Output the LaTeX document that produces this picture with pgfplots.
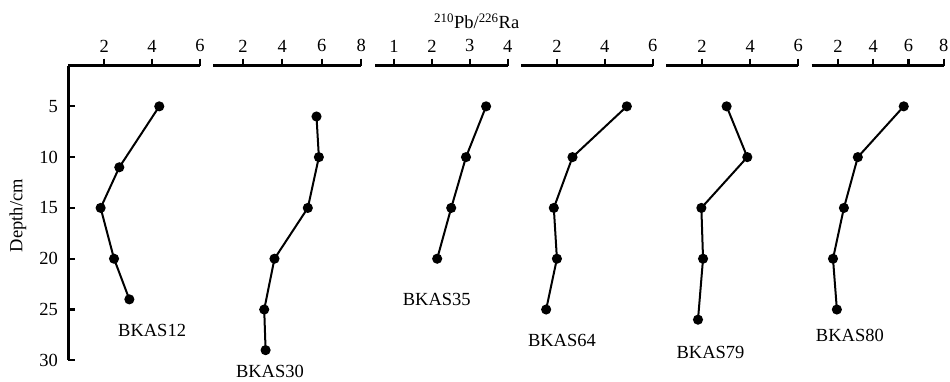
\documentclass[border=0pt]{standalone}
\usepackage{fontspec}
\setmainfont{Liberation Serif}
\usepackage{pgfplots}
\pgfplotsset{compat=1.18}
\newcommand{\lblfont}{\fontsize{18.5}{20}\selectfont}
\pgfplotsset{
  panel/.style={
    scale only axis, height=294.6pt,
    ymin=1, ymax=30, y dir=reverse,
    xmin=0.5, enlargelimits=false,
    axis x line*=top,
    axis line style={-, line width=2.6pt},
    tick align=outside, major tick length=7pt,
    tick style={black, line width=2.2pt},
    ytick style={xshift=7pt},
    tick label style={font=\lblfont},
    xticklabel style={yshift=3pt},
    /pgf/number format/assume math mode=true,
    ytick={5,10,...,30},
    clip=false,
    anchor=south west,
  },
  dat/.style={black, line width=2pt, mark=*, mark size=4pt, mark options={solid,fill=black}},
}
\begin{document}
\begin{tikzpicture}[x=1pt,y=1pt]
\path[use as bounding box] (0,0) rectangle (950,381);

% Panel 1
\begin{axis}[panel, at={(68.3pt,20.7pt)}, width=131.7pt, xmax=6, xtick={2,4,6},
  axis y line*=left]
\addplot[dat] coordinates {(4.30,5) (2.63,11) (1.85,15) (2.41,20) (3.05,24)};
\node[font=\lblfont] at (axis cs:4.0,27.05) {BKAS12};
\end{axis}

% Panel 2
\begin{axis}[panel, at={(213.3pt,20.7pt)}, width=148pt, xmax=8, xtick={2,4,6,8}, axis y line=none]
\addplot[dat] coordinates {(5.73,6) (5.85,10) (5.29,15) (3.60,20) (3.08,25) (3.15,29)};
\node[font=\lblfont] at (axis cs:3.37,31.1) {BKAS30};
\end{axis}

% Panel 3
\begin{axis}[panel, at={(375pt,20.7pt)}, width=132.7pt, xmax=4, xtick={1,2,3,4}, axis y line=none]
\addplot[dat] coordinates {(3.43,5) (2.90,10) (2.51,15) (2.14,20)};
\node[font=\lblfont] at (axis cs:2.13,24.03) {BKAS35};
\end{axis}

% Panel 4
\begin{axis}[panel, at={(521pt,20.7pt)}, width=131.7pt, xmax=6, xtick={2,4,6}, axis y line=none]
\addplot[dat] coordinates {(4.92,5) (2.65,10) (1.87,15) (2.0,20) (1.55,25)};
\node[font=\lblfont] at (axis cs:2.21,28.03) {BKAS64};
\end{axis}

% Panel 5
\begin{axis}[panel, at={(666pt,20.7pt)}, width=132.3pt, xmax=6, xtick={2,4,6}, axis y line=none]
\addplot[dat] coordinates {(3.02,5) (3.88,10) (1.97,15) (2.04,20) (1.83,26)};
\node[font=\lblfont] at (axis cs:2.35,29.18) {BKAS79};
\end{axis}

% Panel 6
\begin{axis}[panel, at={(811.7pt,20.7pt)}, width=132pt, xmax=8, xtick={2,4,6,8}, axis y line=none]
\addplot[dat] coordinates {(5.73,5) (3.12,10) (2.33,15) (1.71,20) (1.93,25)};
\node[font=\lblfont] at (axis cs:2.67,27.6) {BKAS80};
\end{axis}

\node[font=\lblfont, anchor=base] at (476.7,352.7) {\textsuperscript{210}Pb/\textsuperscript{226}Ra};
\node[font=\lblfont, rotate=90] at (18,165.3) {Depth/cm};
\end{tikzpicture}
\end{document}
